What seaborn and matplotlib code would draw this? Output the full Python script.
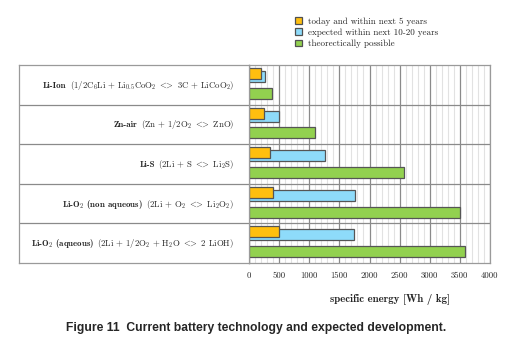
import numpy as np
import pandas as pd
import seaborn as sns
import matplotlib
matplotlib.use("Agg")
import matplotlib.pyplot as plt
from matplotlib.patches import Patch
from matplotlib.ticker import MultipleLocator

# ---- data ----
technologies = ["Li-Ion", "Zn-air", "Li-S", "Li-O2 (non aqueous)", "Li-O2 (aqueous)"]
name_labels = ["Li-Ion", "Zn-air", "Li-S",
               r"Li-O$_{\mathbf{2}}$ (non aqueous)", r"Li-O$_{\mathbf{2}}$ (aqueous)"]
reactions = [r"(1/2C$_6$Li + Li$_{0.5}$CoO$_2$ $<\!\!\!>$ 3C + LiCoO$_2$)",
             r"(Zn + 1/2O$_2$ $<\!\!\!>$ ZnO)",
             r"(2Li + S $<\!\!\!>$ Li$_2$S)",
             r"(2Li + O$_2$ $<\!\!\!>$ Li$_2$O$_2$)",
             r"(2Li + 1/2O$_2$ + H$_2$O $<\!\!\!>$ 2 LiOH)"]
series = ["today and within next 5 years",
          "expected within next 10-20 years",
          "theorectically possible"]
today = [200, 250, 350, 400, 500]
expected = [260, 500, 1265, 1760, 1750]
theoretical = [380, 1090, 2570, 3500, 3580]
x_ticks = [0, 500, 1000, 1500, 2000, 2500, 3000, 3500, 4000]
colors = ["#FFBF0F", "#8EDBFA", "#92D14F"]

sns.set_style("white")
plt.rcParams["font.family"] = ["cmr10", "DejaVu Serif"]
plt.rcParams["mathtext.fontset"] = "cm"
plt.rcParams["axes.formatter.use_mathtext"] = True
plt.rcParams["axes.unicode_minus"] = False

df = pd.DataFrame({
    "tech": technologies * 3,
    "series": [series[0]] * 5 + [series[1]] * 5 + [series[2]] * 5,
    "value": today + expected + theoretical,
})

W, H = 519, 342
fig = plt.figure(figsize=(W / 100, H / 100), dpi=100)
ax_l, ax_r, ax_t, ax_b = 249, 490, 65, 263
ax = fig.add_axes([ax_l / W, 1 - ax_b / H, (ax_r - ax_l) / W, (ax_b - ax_t) / H])

sns.barplot(data=df, y="tech", x="value", hue="series", hue_order=series,
            order=technologies, orient="h", palette=colors, saturation=1,
            dodge=True, width=0.8, errorbar=None, edgecolor="#555555",
            linewidth=0.9, legend=False, ax=ax)

# rearrange bars: today & expected overlap (upper), theoretical below
offsets = [-0.285, -0.209, 0.215]
height = 0.28
zorders = [4, 3, 3]
for ci, cont in enumerate(ax.containers):
    for bi, bar in enumerate(cont):
        bar.set_y(bi + offsets[ci] - height / 2)
        bar.set_height(height)
        bar.set_zorder(zorders[ci])

ax.set_xlim(0, 4000)
ax.set_ylim(4.5, -0.5)
ax.set_xticks(x_ticks)
ax.set_xticklabels([str(t) for t in x_ticks], fontsize=6.3)
ax.xaxis.set_minor_locator(MultipleLocator(100))
ax.tick_params(axis="x", which="both", length=0, pad=6)
ax.set_yticks([])
ax.set_ylabel("")
ax.set_xlabel("specific energy [Wh / kg]", fontsize=7.8, fontfamily="cmb10")
ax.xaxis.set_label_coords((390 - ax_l) / (ax_r - ax_l), -0.155)
ax.set_axisbelow(True)
ax.grid(axis="x", which="minor", color="#E2E2E2", linewidth=0.8, zorder=0)
ax.grid(axis="x", which="major", color="#8A8A8A", linewidth=0.9, zorder=1)
for yb in np.arange(0.5, len(technologies) - 0.5, 1.0):
    ax.axhline(yb, color="#8A8A8A", linewidth=0.9, zorder=1)
for s in ax.spines.values():
    s.set_color("#9A9A9A")
    s.set_linewidth(0.9)

# ---- label table on the left ----
tl = 19
axl = fig.add_axes([tl / W, 1 - ax_b / H, (ax_l - tl) / W, (ax_b - ax_t) / H])
axl.set_xlim(0, 1)
axl.set_ylim(4.5, -0.5)
axl.set_xticks([])
axl.set_yticks([])
for s in axl.spines.values():
    s.set_color("#9A9A9A")
    s.set_linewidth(0.9)
for yb in np.arange(0.5, len(technologies) - 0.5, 1.0):
    axl.axhline(yb, color="#8A8A8A", linewidth=0.9)

fig.canvas.draw()
renderer = fig.canvas.get_renderer()
x_right = 1 - 15 / (ax_l - tl)
for i, (nm, rx) in enumerate(zip(name_labels, reactions)):
    t = axl.text(x_right, i + 0.075, rx, ha="right", va="baseline", fontsize=6.3)
    bb = t.get_window_extent(renderer)
    x0 = axl.transAxes.inverted().transform((bb.x0 - 3, 0))[0]
    axl.text(x0, i + 0.075, nm, ha="right", va="baseline", fontsize=6.4,
             fontfamily="cmb10")

# ---- legend ----
handles = [Patch(facecolor=c, edgecolor="#505050", linewidth=0.9) for c in colors]
fig.legend(handles, series, loc="upper left", bbox_to_anchor=(289 / W, 1 - 11 / H),
           frameon=False, fontsize=6.5, handlelength=0.75, handleheight=0.75,
           handletextpad=0.6, labelspacing=0.3, borderpad=0.2)

fig.text(256 / W, 1 - 328 / H,
         "Figure 11  Current battery technology and expected development.",
         ha="center", va="center", fontsize=8.75, fontweight="bold",
         fontfamily="Liberation Sans")

fig.savefig("out.png", dpi=100)
